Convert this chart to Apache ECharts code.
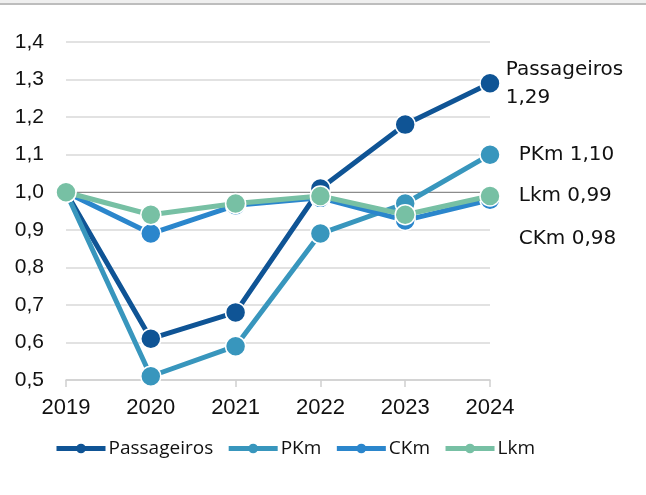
<!DOCTYPE html>
<html><head><meta charset="utf-8">
<script src="https://cdn.jsdelivr.net/npm/echarts@6/dist/echarts.min.js"></script>
<style>html,body{margin:0;padding:0;background:#fff}#c{width:646px;height:495px}</style>
</head><body><div id="c"></div>
<script>
const years = ['2019','2020','2021','2022','2023','2024'];
const passageiros = [1.00, 0.61, 0.68, 1.01, 1.18, 1.29];
const pkm = [1.00, 0.51, 0.59, 0.89, 0.97, 1.10];
const ckm = [1.00, 0.89, 0.965, 0.985, 0.925, 0.98];
const lkm = [1.00, 0.94, 0.97, 0.99, 0.94, 0.99];
const endLabels = ['Passageiros\n1,29', 'PKm 1,10', 'CKm 0,98', 'Lkm 0,99'];

const AXFONT = '"Liberation Sans", Arial, sans-serif';
const LBFONT = '"DejaVu Sans", sans-serif';
const LGFONT = '"Open Sans", "Noto Sans", sans-serif';
const colors = ['#0f5495', '#3896bd', '#2b86cc', '#77c0a4'];
const names = ['Passageiros', 'PKm', 'CKm', 'Lkm'];
const datas = [passageiros, pkm, ckm, lkm];
const offsets = [[0, 0], [13, 0], [13, 39], [13, 0]];

function mk(i) {
  const d = datas[i].map((v, k) => {
    if (k === datas[i].length - 1) {
      return {value: v, label: {show: true, position: 'right', offset: offsets[i],
        formatter: endLabels[i], color: '#111', fontSize: 20, fontFamily: LBFONT, lineHeight: 28, align: 'left'}};
    }
    return v;
  });
  const s = {
    name: names[i], type: 'line', data: d, symbol: 'circle', symbolSize: 20,
    lineStyle: {width: 5, color: colors[i]},
    itemStyle: {color: colors[i], borderColor: '#fff', borderWidth: 1.5},
    emphasis: {disabled: true}, z: 2 + i
  };
  if (i === 0) {
    s.markLine = {silent: true, symbol: 'none', label: {show: false},
      lineStyle: {color: '#8c8c8c', width: 1.2, type: 'solid'}, data: [{yAxis: 1.0}], z: 1};
  }
  return s;
}

const chart = echarts.init(document.getElementById('c'), null, {renderer: 'canvas'});
chart.setOption({
  animation: false,
  color: colors,
  graphic: [
    {type: 'rect', shape: {x: 0, y: 0, width: 646, height: 3}, style: {fill: '#efefef'}},
    {type: 'rect', shape: {x: 0, y: 3, width: 646, height: 2}, style: {fill: '#bdbdbd'}}
  ],
  grid: {left: 66, right: 156, top: 42, bottom: 115},
  legend: {
    top: 434, left: 49, itemWidth: 49, itemHeight: 12, itemGap: 13,
    textStyle: {fontSize: 19, color: '#111', fontFamily: LGFONT, padding: [0, 0, 0, -2]},
    data: names.map((n, i) => ({name: n, itemStyle: {borderColor: colors[i], borderWidth: 0}, lineStyle: {width: 5}}))
  },
  xAxis: {
    type: 'category', data: years, boundaryGap: false,
    axisLine: {lineStyle: {color: '#d0d0d0', width: 1.5}},
    axisTick: {show: true, length: 7, lineStyle: {color: '#d0d0d0', width: 1.5}},
    axisLabel: {fontSize: 22, color: '#111', fontFamily: AXFONT, margin: 17},
    splitLine: {show: false}
  },
  yAxis: {
    type: 'value', min: 0.5, max: 1.4, interval: 0.1,
    axisLine: {show: false}, axisTick: {show: false},
    axisLabel: {fontSize: 21, color: '#111', fontFamily: AXFONT, margin: 22,
      formatter: v => v.toFixed(1).replace('.', ',')},
    splitLine: {lineStyle: {color: '#d9d9d9', width: 1.5}}
  },
  series: [0, 1, 2, 3].map(mk)
});
</script></body></html>
